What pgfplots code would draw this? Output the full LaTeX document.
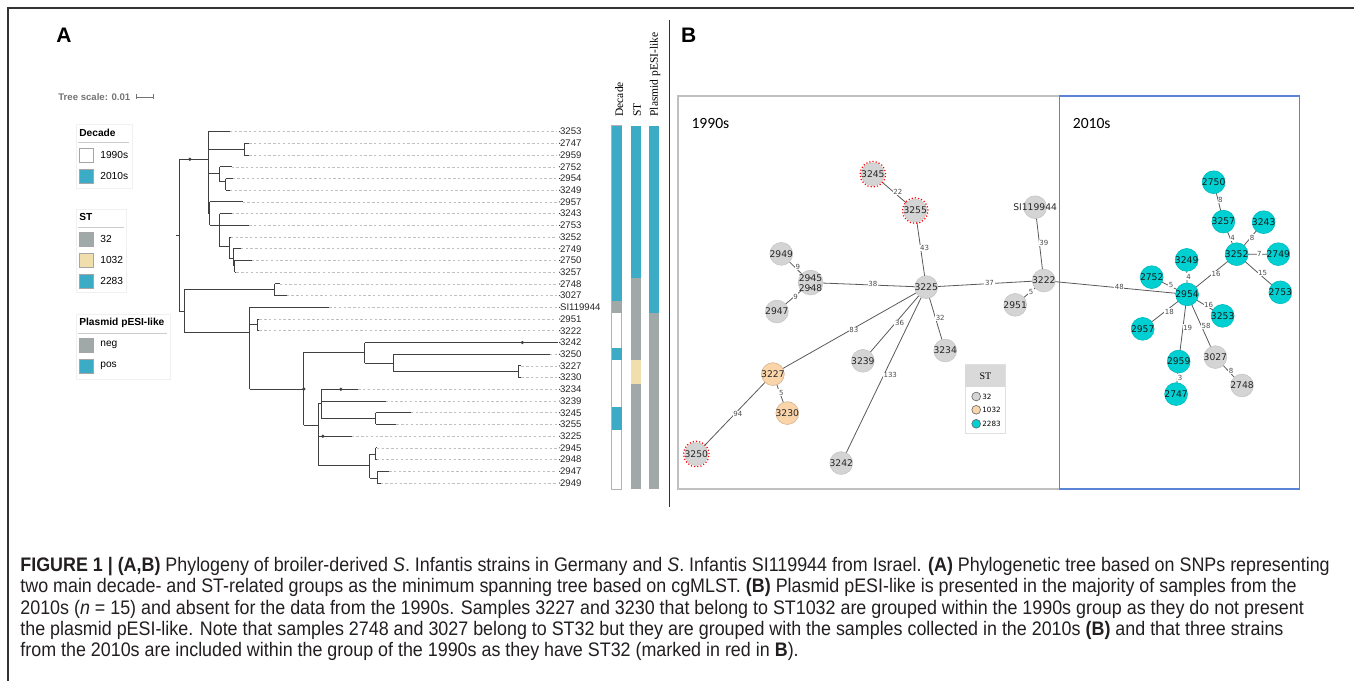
\documentclass[border=0pt]{standalone}
\usepackage{graphicx}
\usepackage{pgfplots}
\pgfplotsset{compat=1.18}
\usepackage{fontspec}
\setmainfont{Liberation Sans}
\newfontfamily\serif{Liberation Serif}
\newfontfamily\calib{Carlito}
\newfontfamily\dv{DejaVu Sans}
\newcommand\fs[1]{\fontsize{#1}{#1}\selectfont}
\definecolor{teal1}{RGB}{60,172,198}
\definecolor{gry1}{RGB}{160,168,168}
\definecolor{beige1}{RGB}{240,222,172}
\definecolor{ngray}{RGB}{212,212,212}
\definecolor{npeach}{RGB}{250,213,170}
\definecolor{ncyan}{RGB}{0,208,210}
\definecolor{bbox}{RGB}{92,132,214}
\definecolor{gbox}{RGB}{192,192,192}
\definecolor{capc}{RGB}{35,31,32}
\newcommand\capfont{\fs{9.8}\color{capc}}
\newcommand\capone{\textbf{FIGURE 1 | (A,B)} Phylogeny of broiler-derived \textit{S}. Infantis strains in Germany and \textit{S}. Infantis SI119944 from Israel. \textbf{(A)} Phylogenetic tree based on SNPs representing}
\newcommand\captwo{two main decade- and ST-related groups as the minimum spanning tree based on cgMLST. \textbf{(B)} Plasmid pESI-like is presented in the majority of samples from the}
\newcommand\capthree{2010s (\textit{n} = 15) and absent for the data from the 1990s. Samples 3227 and 3230 that belong to ST1032 are grouped within the 1990s group as they do not present}
\newcommand\capfour{the plasmid pESI-like. Note that samples 2748 and 3027 belong to ST32 but they are grouped with the samples collected in the 2010s \textbf{(B)} and that three strains}
\newcommand\capfive{from the 2010s are included within the group of the 1990s as they have ST32 (marked in red in \textbf{B}).}
\newcommand\rect[5]{\addplot[#5] coordinates {(#1,#2) (#3,#2) (#3,#4) (#1,#4)} -- cycle;}
\newsavebox\capbox
\newlength\capw
\begin{document}
\sbox\capbox{\capfont\capone}%
\setlength\capw{\wd\capbox}%
\pgfmathsetmacro\capratio{655/\capw}%
\begin{tikzpicture}
\begin{axis}[
  width=677.5pt, height=340.5pt, scale only axis,
  xmin=0, xmax=1355, ymin=0, ymax=681, y dir=reverse,
  hide axis, clip=false, unbounded coords=jump,
]
% bounding helper
\addplot[draw=none] coordinates {(0,0) (1355,681)};
% frame
\addplot[draw=black!80, line width=0.7pt] coordinates {(8,681) (8,8) (1355,8)};
% divider
\addplot[draw=black!80, line width=0.5pt] coordinates {(670,20) (670,507)};

% ---------------- Panel A ----------------
\node[font=\bfseries\fs{10.5}, anchor=center] at (axis cs:64,35) {A};
\node[font=\bfseries\fs{4.8}, text=black!55, anchor=west, inner sep=0pt] at (axis cs:58,97) {Tree scale: 0.01};
\addplot[draw=black!55, line width=0.4pt] coordinates {(136,97) (153,97) (nan,nan) (136,94.5) (136,99.5) (nan,nan) (153,94.5) (153,99.5)};

% legend boxes
\rect{76}{124}{132}{188}{draw=black!6, fill=white, line width=0.4pt}
\rect{76}{209}{126}{293}{draw=black!6, fill=white, line width=0.4pt}
\rect{76}{315}{170}{380}{draw=black!6, fill=white, line width=0.4pt}
\addplot[draw=black!20, line width=0.4pt] coordinates {(78,142) (129,142) (nan,nan) (78,228) (124,228) (nan,nan) (78,333.5) (167,333.5)};
\rect{79}{148}{93}{162}{draw=black!35, fill=white, line width=0.3pt}
\rect{79}{169}{93}{183}{draw=black!35, fill=teal1, line width=0.3pt}
\rect{79}{232}{93}{246}{draw=black!35, fill=gry1, line width=0.3pt}
\rect{79}{253}{93}{267}{draw=black!35, fill=beige1, line width=0.3pt}
\rect{79}{274}{93}{288}{draw=black!35, fill=teal1, line width=0.3pt}
\rect{79}{338}{93}{352}{draw=black!35, fill=gry1, line width=0.3pt}
\rect{79}{359}{93}{373}{draw=black!35, fill=teal1, line width=0.3pt}
\begin{scope}[every node/.style={anchor=west, inner sep=0pt, font=\fs{5.1}}]
\node[font=\bfseries\fs{5.1}] at (axis cs:79,132.5) {Decade};
\node at (axis cs:100,155) {1990s};
\node at (axis cs:100,176) {2010s};
\node[font=\bfseries\fs{5.1}] at (axis cs:79,217.5) {ST};
\node at (axis cs:100,239) {32};
\node at (axis cs:100,260) {1032};
\node at (axis cs:100,281) {2283};
\node[font=\bfseries\fs{5.1}] at (axis cs:79,323.5) {Plasmid pESI-like};
\node at (axis cs:100,345) {neg};
\node at (axis cs:100,366) {pos};
\end{scope}

% dotted guides
\addplot[draw=black!25, line width=0.3pt, dash pattern=on 1.2pt off 1.2pt] coordinates {
(230,131.7) (557,131.7) (nan,nan)
(249.3,143.4) (557,143.4) (nan,nan)
(249.3,155.1) (557,155.1) (nan,nan)
(231.7,166.9) (557,166.9) (nan,nan)
(232.7,178.6) (557,178.6) (nan,nan)
(230,190.3) (557,190.3) (nan,nan)
(242.7,202) (557,202) (nan,nan)
(231.7,213.7) (557,213.7) (nan,nan)
(249.3,225.5) (557,225.5) (nan,nan)
(231,237.2) (557,237.2) (nan,nan)
(241,248.9) (557,248.9) (nan,nan)
(251.7,260.6) (557,260.6) (nan,nan)
(236.5,272.3) (557,272.3) (nan,nan)
(280,284.1) (557,284.1) (nan,nan)
(286.7,295.8) (557,295.8) (nan,nan)
(329.3,307.5) (557,307.5) (nan,nan)
(259.5,319.2) (557,319.2) (nan,nan)
(259.5,330.9) (557,330.9) (nan,nan)
(550,354.4) (557,354.4) (nan,nan)
(521.7,366.1) (557,366.1) (nan,nan)
(521.7,377.8) (557,377.8) (nan,nan)
(358.3,389.5) (557,389.5) (nan,nan)
(386,401.3) (557,401.3) (nan,nan)
(411,413) (557,413) (nan,nan)
(396.7,424.7) (557,424.7) (nan,nan)
(351.7,436.4) (557,436.4) (nan,nan)
(377,448.1) (557,448.1) (nan,nan)
(377,459.9) (557,459.9) (nan,nan)
(389.3,471.6) (557,471.6) (nan,nan)
(380.7,483.3) (557,483.3)
};

% tree
\addplot[draw=black!75, line width=0.5pt] coordinates {
(176,235.5) (180,235.5) (nan,nan)
(180,159.3) (180,311.7) (nan,nan)
(180,159.3) (208.3,159.3) (nan,nan)
(208.3,131.7) (208.3,213.3) (nan,nan)
(208.3,131.7) (230,131.7) (nan,nan)
(208.3,149.3) (244.3,149.3) (nan,nan)
(244.3,143.4) (244.3,155.1) (nan,nan)
(244.3,143.4) (249.3,143.4) (nan,nan)
(244.3,155.1) (249.3,155.1) (nan,nan)
(208.3,174) (220,174) (nan,nan)
(220,166.9) (220,181.7) (nan,nan)
(220,166.9) (231.7,166.9) (nan,nan)
(220,181.7) (225.7,181.7) (nan,nan)
(225.7,178.6) (225.7,190.3) (nan,nan)
(225.7,178.6) (232.7,178.6) (nan,nan)
(225.7,190.3) (230,190.3) (nan,nan)
(208.3,213.3) (210,213.3) (nan,nan)
(210,202) (210,225.5) (nan,nan)
(210,202) (242.7,202) (nan,nan)
(210,225.5) (249.3,225.5) (nan,nan)
(220,213.7) (220,246.7) (nan,nan)
(220,213.7) (231.7,213.7) (nan,nan)
(220,246.7) (229.3,246.7) (nan,nan)
(229.3,237.2) (229.3,258.3) (nan,nan)
(229.3,237.2) (231,237.2) (nan,nan)
(229.3,258.3) (233.3,258.3) (nan,nan)
(233.3,248.9) (233.3,266) (nan,nan)
(233.3,248.9) (241,248.9) (nan,nan)
(233.3,266) (235,266) (nan,nan)
(235,260.6) (235,272.3) (nan,nan)
(235,260.6) (251.7,260.6) (nan,nan)
(235,272.3) (236.5,272.3) (nan,nan)
(180,311.7) (184.3,311.7) (nan,nan)
(184.3,290) (184.3,332.3) (nan,nan)
(184.3,290) (275,290) (nan,nan)
(275,284.1) (275,295.8) (nan,nan)
(275,284.1) (280,284.1) (nan,nan)
(275,295.8) (286.7,295.8) (nan,nan)
(184.3,332.3) (250,332.3) (nan,nan)
(250,307.5) (250,389.3) (nan,nan)
(250,307.5) (329.3,307.5) (nan,nan)
(250,325) (257.3,325) (nan,nan)
(257.3,319.2) (257.3,330.9) (nan,nan)
(257.3,319.2) (259.5,319.2) (nan,nan)
(257.3,330.9) (259.5,330.9) (nan,nan)
(250,389.3) (304,389.3) (nan,nan)
(304,352.3) (304,425.7) (nan,nan)
(304,352.3) (365,352.3) (nan,nan)
(365,342.7) (365,363.3) (nan,nan)
(365,342.7) (558,342.7) (nan,nan)
(365,363.3) (393.3,363.3) (nan,nan)
(393.3,354.4) (393.3,372) (nan,nan)
(393.3,354.4) (550,354.4) (nan,nan)
(393.3,372) (518.3,372) (nan,nan)
(518.3,366.1) (518.3,377.8) (nan,nan)
(518.3,366.1) (521.7,366.1) (nan,nan)
(518.3,377.8) (521.7,377.8) (nan,nan)
(304,425.7) (318.3,425.7) (nan,nan)
(318.3,403.7) (318.3,466) (nan,nan)
(318.3,403.7) (321.3,403.7) (nan,nan)
(321.3,389.5) (321.3,418.3) (nan,nan)
(321.3,389.5) (358.3,389.5) (nan,nan)
(321.3,401.3) (386,401.3) (nan,nan)
(321.3,418.3) (375.7,418.3) (nan,nan)
(375.7,413) (375.7,424.7) (nan,nan)
(375.7,413) (411,413) (nan,nan)
(375.7,424.7) (396.7,424.7) (nan,nan)
(318.3,436.4) (351.7,436.4) (nan,nan)
(318.3,466) (370,466) (nan,nan)
(370,454.3) (370,478.3) (nan,nan)
(370,454.3) (375.7,454.3) (nan,nan)
(375.7,448.1) (375.7,459.9) (nan,nan)
(375.7,448.1) (377,448.1) (nan,nan)
(375.7,459.9) (377,459.9) (nan,nan)
(370,478.3) (377.3,478.3) (nan,nan)
(377.3,471.6) (377.3,483.3) (nan,nan)
(377.3,471.6) (389.3,471.6) (nan,nan)
(377.3,483.3) (380.7,483.3)
};
\addplot[only marks, mark=*, mark size=0.6pt, black!75] coordinates {(190,159.3) (522.7,342.7) (304,389.3) (341,389.5) (323,436.4)};

% leaf labels
\addplot[only marks, mark=*, mark size=0.01pt, mark options={draw=none,fill=none},
  nodes near coords, point meta=explicit symbolic,
  every node near coord/.append style={anchor=west, inner sep=0pt, font=\fs{4.8}, text=black!85}]
 table[meta=l] {
x y l
560 131.7 3253
560 143.4 2747
560 155.1 2959
560 166.9 2752
560 178.6 2954
560 190.3 3249
560 202.0 2957
560 213.7 3243
560 225.5 2753
560 237.2 3252
560 248.9 2749
560 260.6 2750
560 272.3 3257
560 284.1 2748
560 295.8 3027
560 307.5 SI119944
560 319.2 2951
560 330.9 3222
560 342.7 3242
560 354.4 3250
560 366.1 3227
560 377.8 3230
560 389.5 3234
560 401.3 3239
560 413.0 3245
560 424.7 3255
560 436.4 3225
560 448.1 2945
560 459.9 2948
560 471.6 2947
560 483.3 2949
};

% strips
\rect{612}{125.8}{622}{489.2}{draw=black!30, fill=white, line width=0.3pt}
\rect{612}{125.8}{622}{301.6}{draw=none, fill=teal1}
\rect{612}{301.6}{622}{313.4}{draw=none, fill=gry1}
\rect{612}{348.5}{622}{360.2}{draw=none, fill=teal1}
\rect{612}{407.1}{622}{430.6}{draw=none, fill=teal1}
\rect{631}{125.8}{641}{278.2}{draw=none, fill=teal1}
\rect{631}{278.2}{641}{360.2}{draw=none, fill=gry1}
\rect{631}{360.2}{641}{383.7}{draw=none, fill=beige1}
\rect{631}{383.7}{641}{489.2}{draw=none, fill=gry1}
\rect{649}{125.8}{659}{313.4}{draw=none, fill=teal1}
\rect{649}{313.4}{659}{489.2}{draw=none, fill=gry1}
\node[rotate=90, anchor=west, inner sep=0pt, font=\serif\fs{5.75}] at (axis cs:619.5,117) {Decade};
\node[rotate=90, anchor=west, inner sep=0pt, font=\serif\fs{5.75}] at (axis cs:637.5,117) {ST};
\node[rotate=90, anchor=west, inner sep=0pt, font=\serif\fs{5.75}] at (axis cs:655.5,117) {Plasmid pESI-like};

% ---------------- Panel B ----------------
\node[font=\bfseries\fs{10.5}, anchor=center] at (axis cs:689,35) {B};
\addplot[draw=gbox, line width=0.6pt] coordinates {(1060,96) (678.3,96) (678.3,489.3) (1060,489.3)};
\rect{1060}{96}{1300.5}{489.3}{draw=bbox, line width=0.6pt}
\node[font=\calib\fs{7.8}, anchor=west, inner sep=0pt] at (axis cs:691.5,124) {1990s};
\node[font=\calib\fs{7.8}, anchor=west, inner sep=0pt] at (axis cs:1073,124) {2010s};

% edges
\addplot[draw=black!65, line width=0.4pt] coordinates {
(781.7,254) (811,282.7) (nan,nan)
(811,282.7) (777.3,311.7) (nan,nan)
(811,282.7) (926.7,287.3) (nan,nan)
(873.3,174.3) (915.7,210.7) (nan,nan)
(915.7,210.7) (926.7,287.3) (nan,nan)
(926.7,287.3) (1044.3,280.7) (nan,nan)
(926.7,287.3) (773.3,374.3) (nan,nan)
(926.7,287.3) (863.3,361) (nan,nan)
(926.7,287.3) (841.7,463.3) (nan,nan)
(926.7,287.3) (945.7,350.7) (nan,nan)
(773.3,374.3) (787.7,413.3) (nan,nan)
(773.3,374.3) (696.7,454.3) (nan,nan)
(1044.3,280.7) (1035.7,207.3) (nan,nan)
(1044.3,280.7) (1015.7,305) (nan,nan)
(1044.3,280.7) (1187.7,294.5) (nan,nan)
(1187.7,294.5) (1152.3,277.3) (nan,nan)
(1187.7,294.5) (1187.3,260) (nan,nan)
(1187.7,294.5) (1237.3,254.3) (nan,nan)
(1237.3,254.3) (1224,221.7) (nan,nan)
(1224,221.7) (1214.3,182.3) (nan,nan)
(1237.3,254.3) (1264.3,222.3) (nan,nan)
(1237.3,254.3) (1279,254.3) (nan,nan)
(1237.3,254.3) (1281,292.5) (nan,nan)
(1187.7,294.5) (1223.3,316) (nan,nan)
(1187.7,294.5) (1143.3,329) (nan,nan)
(1187.7,294.5) (1179.3,361.7) (nan,nan)
(1187.7,294.5) (1216,357.3) (nan,nan)
(1216,357.3) (1242.7,385.7) (nan,nan)
(1179.3,361.7) (1176.7,394.3)
};
% edge labels
\addplot[only marks, mark=*, mark size=0.01pt, mark options={draw=none,fill=none},
  nodes near coords, point meta=explicit symbolic,
  every node near coord/.append style={anchor=center, inner sep=0.3pt, fill=white, font=\dv\fs{3.5}, text=black!70}]
 table[meta=l] {
x y l
898.3 191.7 22
925 248.3 43
798.3 267.3 9
873.3 284.3 38
990 282.7 37
796 296.7 9
854.3 330 83
900 323.3 36
940.7 318.3 32
890.7 375 133
781.7 392.7 5
738.3 414 94
1044.3 243.3 39
1031.7 291.7 5
1120 287.3 48
1171.7 285 5
1189.3 276.7 4
1216.7 274.3 16
1233.3 237.7 4
1221 200 8
1252.7 237.7 8
1260 254.3 7
1263.3 272.7 15
1209.3 305 16
1170 311.7 18
1188.3 327.7 19
1206.7 326 58
1231.7 371 8
1180.7 377.7 3
};

% nodes: grey ST32
\addplot[only marks, mark=*, mark size=5.7pt, mark options={fill=ngray, draw=black!22, line width=0.3pt},
  nodes near coords, point meta=explicit symbolic,
  every node near coord/.append style={anchor=center, inner sep=0pt, font=\dv\fs{4.6}, text=black!85}]
 table[meta=l] {
x y l
873.3 174.3 3245
915.7 210.7 3255
781.7 254 2949
926.7 287.3 3225
1035.7 207.3 SI119944
1044.3 280.7 3222
777.3 311.7 2947
1015.7 305 2951
863.3 361 3239
945.7 350.7 3234
696.7 454.3 3250
841.7 463.3 3242
1216 357.3 3027
1242.7 385.7 2748
};
\addplot[only marks, mark=*, mark size=6.2pt, mark options={fill=ngray, draw=black!22, line width=0.3pt}] coordinates {(811,282.7)};
\addplot[only marks, mark=*, mark size=0.01pt, mark options={draw=none,fill=none},
  nodes near coords, point meta=explicit symbolic,
  every node near coord/.append style={anchor=center, inner sep=0pt, font=\dv\fs{4.6}, text=black!85}]
 table[meta=l] {
x y l
811 278.0 2945
811 287.8 2948
};
% peach ST1032
\addplot[only marks, mark=*, mark size=5.7pt, mark options={fill=npeach, draw=npeach!85!black, line width=0.3pt},
  nodes near coords, point meta=explicit symbolic,
  every node near coord/.append style={anchor=center, inner sep=0pt, font=\dv\fs{4.6}, text=black!85}]
 table[meta=l] {
x y l
773.3 374.3 3227
787.7 413.3 3230
};
% cyan ST2283
\addplot[only marks, mark=*, mark size=5.7pt, mark options={fill=ncyan, draw=ncyan!90!black, line width=0.3pt},
  nodes near coords, point meta=explicit symbolic,
  every node near coord/.append style={anchor=center, inner sep=0pt, font=\dv\fs{4.6}, text=black!90}]
 table[meta=l] {
x y l
1214.3 182.3 2750
1224 221.7 3257
1264.3 222.3 3243
1237.3 254.3 3252
1279 254.3 2749
1187.3 260 3249
1152.3 277.3 2752
1187.7 294.5 2954
1281 292.5 2753
1223.3 316 3253
1143.3 329 2957
1179.3 361.7 2959
1176.7 394.3 2747
};
% red dotted rings
\addplot[only marks, mark=o, mark size=6.4pt, mark options={draw=red, line width=0.6pt, densely dotted}] coordinates {(873.3,174.3) (915.7,210.7) (696.7,454.3)};

% ST legend
\rect{965.7}{365}{1006}{433.3}{draw=black!12, fill=white, line width=0.5pt}
\rect{965.7}{365}{1006}{386.7}{draw=none, fill=black!15}
\node[font=\serif\fs{5}, inner sep=0pt] at (axis cs:986,376) {ST};
\addplot[only marks, mark=*, mark size=2.2pt, mark options={fill=ngray, draw=black!60, line width=0.3pt}] coordinates {(976.7,396.7)};
\addplot[only marks, mark=*, mark size=2.2pt, mark options={fill=npeach, draw=black!60, line width=0.3pt}] coordinates {(976.7,410)};
\addplot[only marks, mark=*, mark size=2.2pt, mark options={fill=ncyan, draw=black!60, line width=0.3pt}] coordinates {(976.7,424)};
\node[font=\dv\fs{3.6}, anchor=west, inner sep=0pt] at (axis cs:982.5,396.7) {32};
\node[font=\dv\fs{3.6}, anchor=west, inner sep=0pt] at (axis cs:982.5,410) {1032};
\node[font=\dv\fs{3.6}, anchor=west, inner sep=0pt] at (axis cs:982.5,424) {2283};

% ---------------- caption ----------------
\begin{scope}[every node/.style={anchor=west, inner sep=0pt}]
\node at (axis cs:20,567) {\scalebox{\capratio}[1]{\capfont\capone}};
\node at (axis cs:20,588) {\scalebox{\capratio}[1]{\capfont\captwo}};
\node at (axis cs:20,609.5) {\scalebox{\capratio}[1]{\capfont\capthree}};
\node at (axis cs:20,631) {\scalebox{\capratio}[1]{\capfont\capfour}};
\node at (axis cs:20,652) {\scalebox{\capratio}[1]{\capfont\capfive}};
\end{scope}
\end{axis}
\end{tikzpicture}
\end{document}
